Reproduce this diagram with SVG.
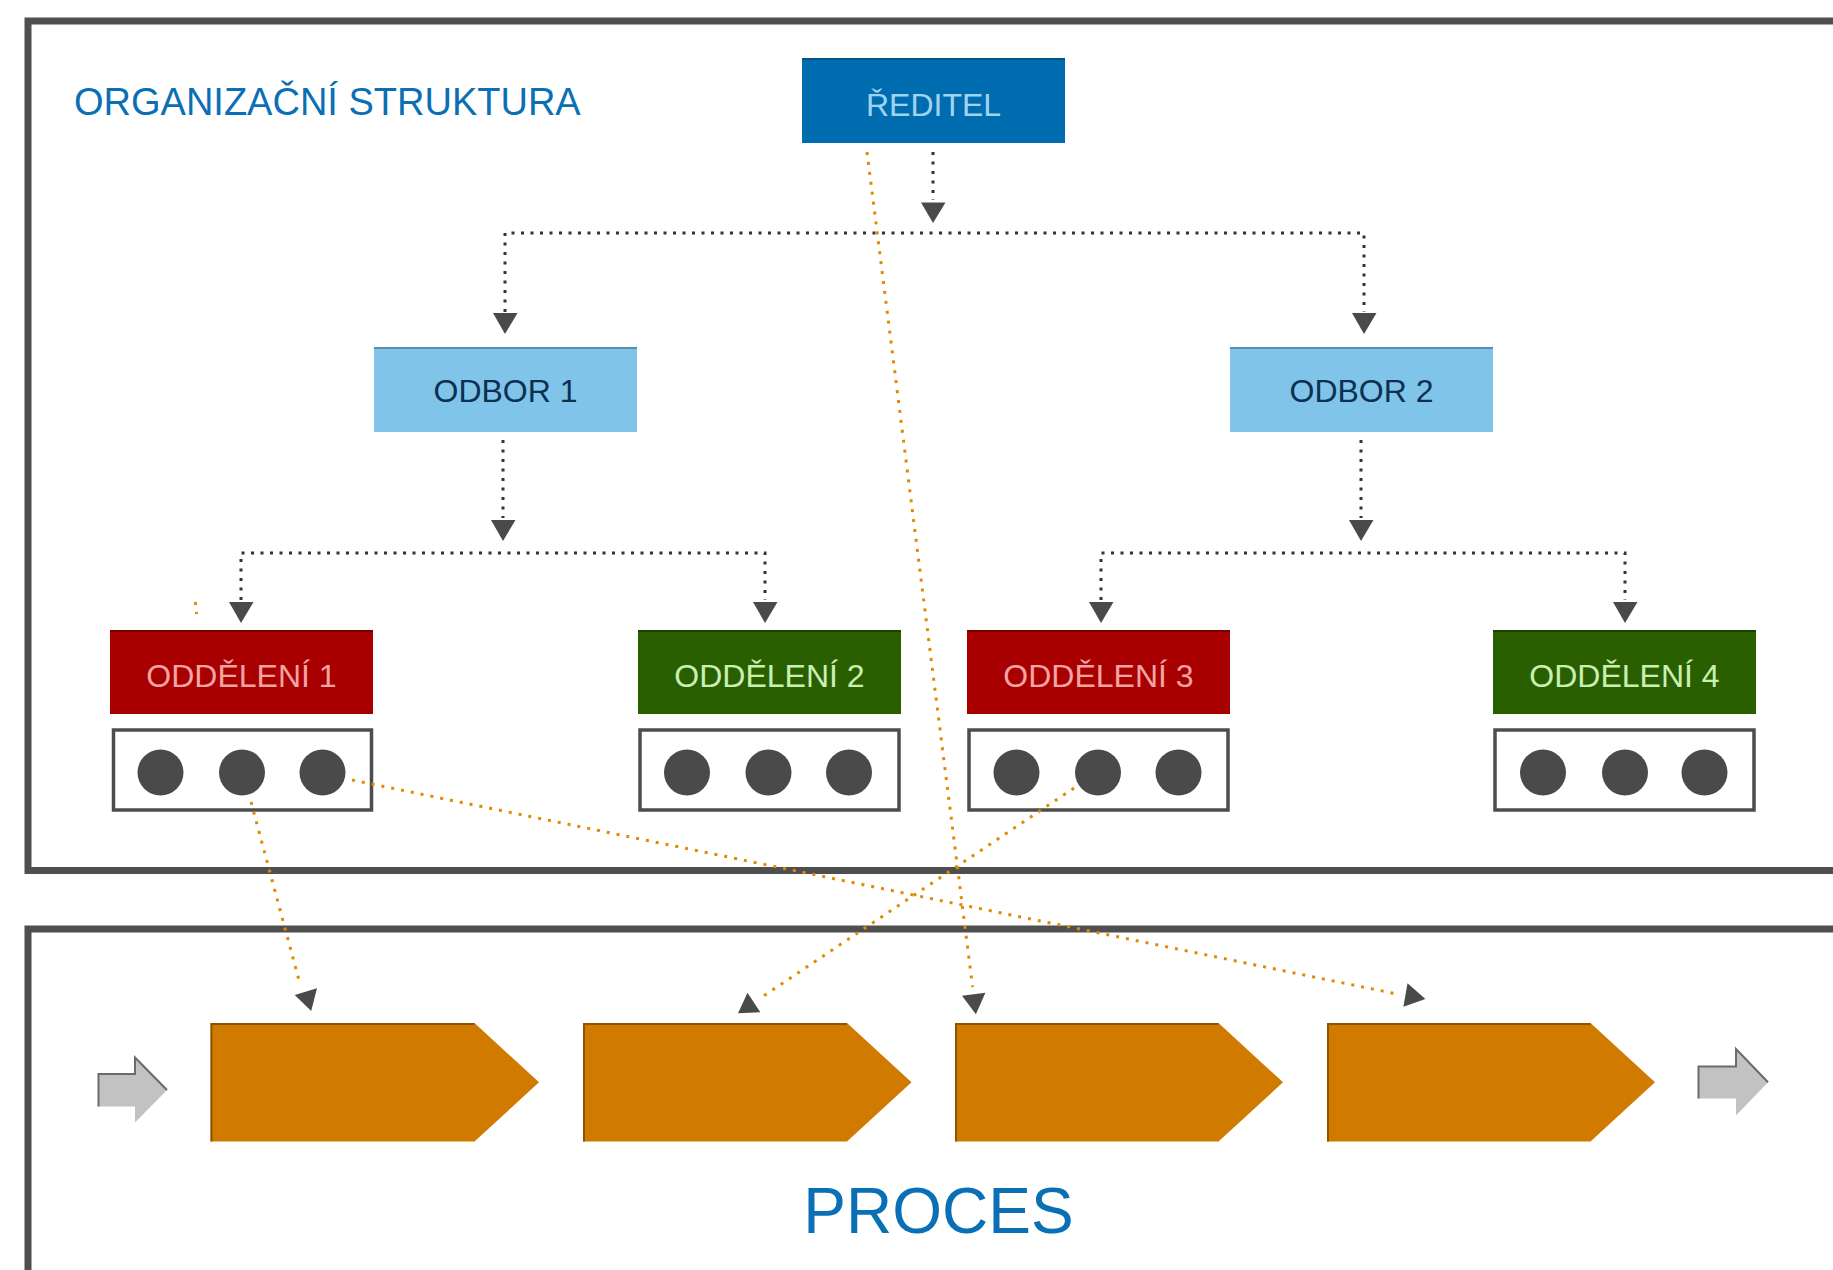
<svg xmlns="http://www.w3.org/2000/svg" width="1833" height="1270" viewBox="0 0 1833 1270">
<style>
.frame{fill:none;stroke:#4f4f4f;stroke-width:7}
.lbl{font-family:"Liberation Sans",Arial,sans-serif;font-size:32px;text-anchor:middle}
.conn{fill:none;stroke:#333;stroke-width:3;stroke-dasharray:3 6.5}
.oconn{fill:none;stroke:#e08a00;stroke-width:3;stroke-dasharray:3 7}
.head{fill:#4a4a4a}
.mbox{fill:#fff;stroke:#4d4d4d;stroke-width:3.5}
.dot{fill:#4a4a4a}
.chev{fill:#d07a00}
.chevedge{fill:none;stroke:#8f5400;stroke-width:2}
.garrow{fill:#c2c2c2}
.gedge{fill:none;stroke:#6a6a6a;stroke-width:2}
</style>
<rect width="1833" height="1270" fill="#fff"/>
<g id="frames">
<rect class="frame" x="28" y="21" width="1900" height="849.5"/>
<rect class="frame" x="28" y="929" width="1900" height="400"/>
</g>
<text id="title" x="74" y="115" font-family="'Liberation Sans',Arial,sans-serif" font-size="38" fill="#0a6fb5">ORGANIZAČNÍ STRUKTURA</text>
<g id="reditel">
<rect x="802" y="58" width="263" height="85" fill="#006cb0"/>
<line x1="802" y1="59" x2="1065" y2="59" stroke="#00558c" stroke-width="2"/>
<text class="lbl" x="933.5" y="116" fill="#9fd4f0">ŘEDITEL</text>
</g>
<g id="odbor1">
<rect x="374" y="347" width="263" height="85" fill="#80c4ea"/>
<line x1="374" y1="348" x2="637" y2="348" stroke="#5b8fae" stroke-width="2"/>
<text class="lbl" x="505.5" y="402" fill="#0c3150">ODBOR 1</text>
</g>
<g id="odbor2">
<rect x="1230" y="347" width="263" height="85" fill="#80c4ea"/>
<line x1="1230" y1="348" x2="1493" y2="348" stroke="#5b8fae" stroke-width="2"/>
<text class="lbl" x="1361.5" y="402" fill="#0c3150">ODBOR 2</text>
</g>
<g id="oddeleni1">
<rect x="110" y="630" width="263" height="84" fill="#a80000"/>
<line x1="110" y1="631" x2="373" y2="631" stroke="#7a0000" stroke-width="2"/>
<text class="lbl" x="241.5" y="687" fill="#f4a3a3">ODDĚLENÍ 1</text>
<rect class="mbox" x="113.5" y="730" width="258" height="80"/>
<circle class="dot" cx="160.5" cy="772.5" r="23"/>
<circle class="dot" cx="242" cy="772.5" r="23"/>
<circle class="dot" cx="322.5" cy="772.5" r="23"/>
</g>
<g id="oddeleni2">
<rect x="638" y="630" width="263" height="84" fill="#2a5f00"/>
<line x1="638" y1="631" x2="901" y2="631" stroke="#1c4200" stroke-width="2"/>
<text class="lbl" x="769.5" y="687" fill="#c9efb5">ODDĚLENÍ 2</text>
<rect class="mbox" x="640" y="730" width="259" height="80"/>
<circle class="dot" cx="687" cy="772.5" r="23"/>
<circle class="dot" cx="768.5" cy="772.5" r="23"/>
<circle class="dot" cx="849" cy="772.5" r="23"/>
</g>
<g id="oddeleni3">
<rect x="967" y="630" width="263" height="84" fill="#a80000"/>
<line x1="967" y1="631" x2="1230" y2="631" stroke="#7a0000" stroke-width="2"/>
<text class="lbl" x="1098.5" y="687" fill="#f4a3a3">ODDĚLENÍ 3</text>
<rect class="mbox" x="969" y="730" width="259" height="80"/>
<circle class="dot" cx="1016.5" cy="772.5" r="23"/>
<circle class="dot" cx="1098" cy="772.5" r="23"/>
<circle class="dot" cx="1178.5" cy="772.5" r="23"/>
</g>
<g id="oddeleni4">
<rect x="1493" y="630" width="263" height="84" fill="#2a5f00"/>
<line x1="1493" y1="631" x2="1756" y2="631" stroke="#1c4200" stroke-width="2"/>
<text class="lbl" x="1624.5" y="687" fill="#c9efb5">ODDĚLENÍ 4</text>
<rect class="mbox" x="1495" y="730" width="259" height="80"/>
<circle class="dot" cx="1543" cy="772.5" r="23"/>
<circle class="dot" cx="1625" cy="772.5" r="23"/>
<circle class="dot" cx="1704.5" cy="772.5" r="23"/>
</g>
<g id="process">
<g id="in-arrow">
<polygon class="garrow" points="98.5,1074 135,1074 135,1057.5 167,1090 135,1122.5 135,1106.5 98.5,1106.5"/>
<polyline class="gedge" points="98.5,1106.5 98.5,1074 135,1074 135,1057.5 167,1090"/>
</g>
<g id="step1">
<polygon class="chev" points="210.5,1023 474.5,1023 539,1082.3 474.5,1141.5 210.5,1141.5"/>
<polyline class="chevedge" points="211.5,1141.5 211.5,1024 474.5,1024"/>
</g>
<g id="step2">
<polygon class="chev" points="583,1023 847,1023 911.5,1082.3 847,1141.5 583,1141.5"/>
<polyline class="chevedge" points="584,1141.5 584,1024 847,1024"/>
</g>
<g id="step3">
<polygon class="chev" points="955,1023 1218.5,1023 1283,1082.3 1218.5,1141.5 955,1141.5"/>
<polyline class="chevedge" points="956,1141.5 956,1024 1218.5,1024"/>
</g>
<g id="step4">
<polygon class="chev" points="1327,1023 1590.5,1023 1655,1082.3 1590.5,1141.5 1327,1141.5"/>
<polyline class="chevedge" points="1328,1141.5 1328,1024 1590.5,1024"/>
</g>
<g id="out-arrow">
<polygon class="garrow" points="1698.5,1066.5 1736,1066.5 1736,1049 1768,1082.3 1736,1115.5 1736,1098.5 1698.5,1098.5"/>
<polyline class="gedge" points="1698.5,1098.5 1698.5,1066.5 1736,1066.5 1736,1049 1768,1082.3"/>
</g>
<text id="proces" x="938.5" y="1233" font-family="'Liberation Sans',Arial,sans-serif" font-size="64" fill="#0a6fb5" text-anchor="middle">PROCES</text>
</g>
<g id="connectors">
<path class="conn" d="M933,152 V200"/>
<polygon class="head" points="921,202.5 945.5,202.5 933,223"/>
<path class="conn" d="M505,312 V233 H1364 V312"/>
<polygon class="head" points="493,313 517.5,313 505,334"/>
<polygon class="head" points="1352,313 1376.5,313 1364,334"/>
<path class="conn" d="M503,440 V518"/>
<polygon class="head" points="491,520 515.5,520 503,541"/>
<path class="conn" d="M241,600 V553 H765 V600"/>
<polygon class="head" points="229,602 253.5,602 241,623"/>
<polygon class="head" points="753,602 777.5,602 765,623"/>
<path class="conn" d="M1361,440 V518"/>
<polygon class="head" points="1349,520 1373.5,520 1361,541"/>
<path class="conn" d="M1101,600 V553 H1625 V600"/>
<polygon class="head" points="1089,602 1113.5,602 1101,623"/>
<polygon class="head" points="1613,602 1637.5,602 1625,623"/>
<path class="oconn" d="M867,152 L972.6,987"/>
<polygon class="head" points="962,995.7 985.4,992.7 975.9,1014.3"/>
<path class="oconn" d="M251,802 L300,984"/>
<polygon class="head" points="294.7,995 317,988.3 311.2,1011"/>
<path class="oconn" d="M352,780 L1397,994"/>
<polygon class="head" points="1407.5,983.3 1425.4,999 1403.4,1006.7"/>
<path class="oconn" d="M1074,788 L762,997"/>
<polygon class="head" points="747.5,992.7 760.3,1012.3 738,1013.3"/>
<path class="oconn" d="M195.3,602 L196.7,614"/>
</g>
</svg>
